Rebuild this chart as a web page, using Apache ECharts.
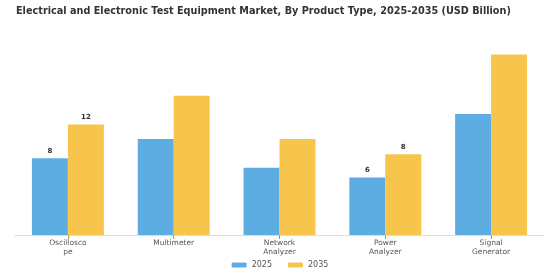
<!DOCTYPE html>
<html>
<head>
<meta charset="utf-8">
<script src="https://cdn.jsdelivr.net/npm/echarts@6/dist/echarts.min.js"></script>
<style>
  html, body { margin: 0; padding: 0; background: #fff; }
  #chart { width: 560px; height: 280px; }
</style>
</head>
<body>
<div id="chart"></div>
<script>
// categories and values
const categories = ['Oscillosco\npe', 'Multimeter', 'Network\nAnalyzer', 'Power\nAnalyzer', 'Signal\nGenerator'];
const values2025 = [8.0, 10.0, 7.0, 6.0, 12.6];
const values2035 = [11.5, 14.5, 10.0, 8.4, 18.8];
// only these categories carry a value label
const labelled = [0, 3];

const chart = echarts.init(document.getElementById('chart'));

function toData(vals) {
  return vals.map((v, i) => ({
    value: v,
    label: { show: labelled.indexOf(i) >= 0 }
  }));
}

const labelStyle = {
  position: 'top',
  distance: 4,
  fontSize: 7,
  fontWeight: 'bold',
  color: '#333',
  fontFamily: 'DejaVu Sans',
  formatter: p => Math.round(p.value)
};

chart.setOption({
  animation: false,
  title: {
    text: 'Electrical and Electronic Test Equipment Market, By Product Type, 2025-2035 (USD Billion)',
    left: 11,
    top: 1,
    textStyle: { fontSize: 9.7, fontWeight: 'bold', color: '#333', fontFamily: 'DejaVu Sans' }
  },
  legend: {
    bottom: 6,
    left: 'center',
    itemWidth: 15,
    itemHeight: 5,
    itemGap: 16,
    textStyle: { fontSize: 8, color: '#555', fontFamily: 'DejaVu Sans' },
    data: ['2025', '2035']
  },
  grid: { left: 15, right: 16, top: 43, bottom: 45 },
  xAxis: {
    type: 'category',
    data: categories,
    axisLine: { lineStyle: { color: '#ddd' } },
    axisTick: { show: true, alignWithLabel: true, length: 4, lineStyle: { color: '#999' } },
    axisLabel: { fontSize: 7.5, color: '#555', fontFamily: 'DejaVu Sans', margin: 4, lineHeight: 8.5 }
  },
  yAxis: {
    type: 'value',
    min: 0,
    max: 20,
    show: false,
    splitLine: { show: false }
  },
  series: [
    {
      name: '2025',
      type: 'bar',
      barWidth: '34%',
      barGap: '0%',
      itemStyle: { color: '#5dade2' },
      label: labelStyle,
      data: toData(values2025)
    },
    {
      name: '2035',
      type: 'bar',
      barWidth: '34%',
      itemStyle: { color: '#f7c44c' },
      label: labelStyle,
      data: toData(values2035)
    }
  ]
});
</script>
</body>
</html>
